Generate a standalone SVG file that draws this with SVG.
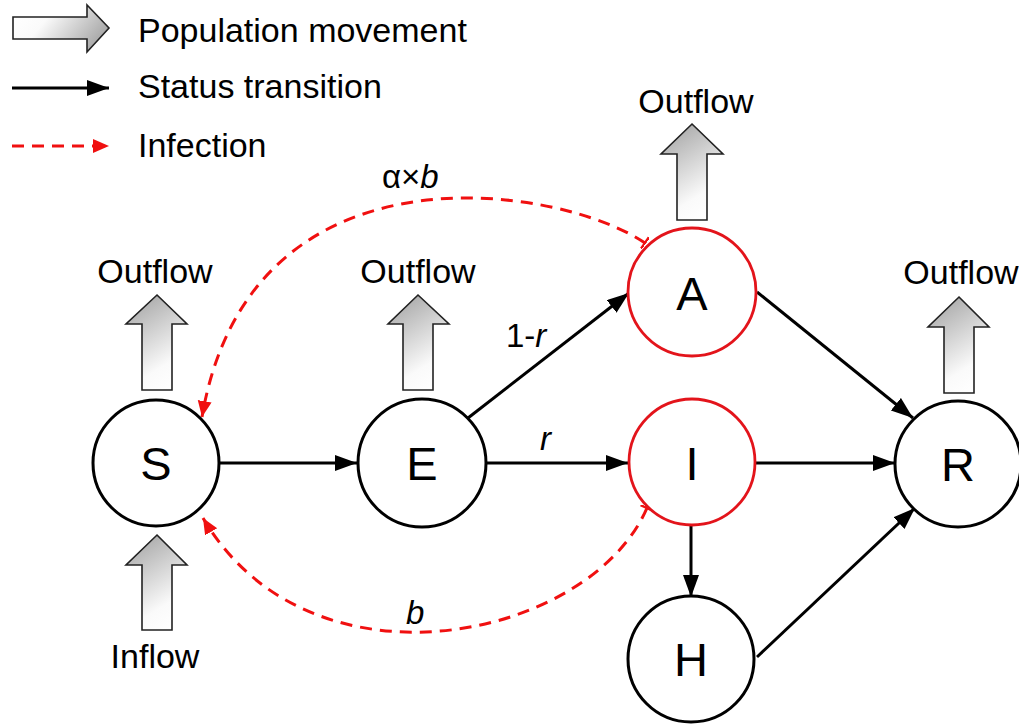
<svg xmlns="http://www.w3.org/2000/svg" width="1019" height="724" viewBox="0 0 1019 724">
<style>
text{font-family:"Liberation Sans",Arial,sans-serif;fill:#000}
.lbl{font-size:34px}
.node{fill:#fff;stroke:#000;stroke-width:3}
.inf{fill:#fff;stroke:#e3141b;stroke-width:2.8}
.nl{font-size:47px;text-anchor:middle}
.blk{fill:url(#gUp);stroke:#222;stroke-width:1.6}
.tr{stroke:#000;stroke-width:3;fill:none}
.rd{stroke:#f01010;stroke-width:3;fill:none;stroke-dasharray:12 8}
.el{font-size:33px}
</style>
<defs>
<linearGradient id="gUp" x1="0.3" y1="0" x2="0.7" y2="1">
<stop offset="0" stop-color="#a9a9a9"/>
<stop offset="0.75" stop-color="#fafafa"/>
<stop offset="1" stop-color="#ffffff"/>
</linearGradient>
<linearGradient id="gRight" x1="0" y1="0.3" x2="1" y2="0.7">
<stop offset="0" stop-color="#ffffff"/>
<stop offset="0.3" stop-color="#fafafa"/>
<stop offset="1" stop-color="#a0a0a0"/>
</linearGradient>
<marker id="ab" markerUnits="userSpaceOnUse" markerWidth="24" markerHeight="18" refX="22" refY="8" orient="auto">
<path d="M0,0 L22,8 L0,16 Z" fill="#000"/>
</marker>
<marker id="ar" markerUnits="userSpaceOnUse" markerWidth="18" markerHeight="16" refX="16" refY="7" orient="auto">
<path d="M0,0 L16,7 L0,14 Z" fill="#f01010"/>
</marker>
<marker id="tee" markerUnits="userSpaceOnUse" markerWidth="4" markerHeight="14" refX="1" refY="7" orient="auto">
<path d="M1,0 L1,14" stroke="#f01010" stroke-width="2.5"/>
</marker>
</defs>

<g id="legend">
<path d="M13,17 L87,17 L87,5 L109,28 L87,52 L87,39 L13,39 Z" fill="url(#gRight)" stroke="#222" stroke-width="1.6"/>
<text class="lbl" x="138" y="42">Population movement</text>
<line x1="12" y1="88" x2="109" y2="88" class="tr" marker-end="url(#ab)"/>
<text class="lbl" x="138" y="98">Status transition</text>
<line x1="12" y1="146" x2="109" y2="146" class="rd" stroke-dasharray="12 9" marker-end="url(#ar)"/>
<text class="lbl" x="138" y="157">Infection</text>
</g>

<g id="flows">
<g id="outS">
<path d="M157,295 L187,324 L172,324 L172,390 L142,390 L142,324 L126,324 Z" class="blk"/>
<text class="lbl" x="155" y="283" text-anchor="middle">Outflow</text>
</g>
<g id="outE">
<path d="M418,295 L449,324 L433,324 L433,390 L403,390 L403,324 L388,324 Z" class="blk"/>
<text class="lbl" x="418" y="283" text-anchor="middle">Outflow</text>
</g>
<g id="outA">
<path d="M692,124 L723,154 L707,154 L707,220 L677,220 L677,154 L661,154 Z" class="blk"/>
<text class="lbl" x="696" y="113" text-anchor="middle">Outflow</text>
</g>
<g id="outR">
<path d="M959,297 L989,327 L974,327 L974,393 L944,393 L944,327 L928,327 Z" class="blk"/>
<text class="lbl" x="961" y="284" text-anchor="middle">Outflow</text>
</g>
<g id="inS">
<path d="M157,535 L187,565 L172,565 L172,630 L142,630 L142,565 L126,565 Z" class="blk"/>
<text class="lbl" x="155" y="668" text-anchor="middle">Inflow</text>
</g>
</g>

<g id="connectors">
<line x1="220" y1="463" x2="357" y2="463" class="tr" marker-end="url(#ab)"/>
<line x1="468" y1="418" x2="629" y2="293" class="tr" marker-end="url(#ab)"/>
<line x1="487" y1="463" x2="628" y2="463" class="tr" marker-end="url(#ab)"/>
<line x1="757" y1="292" x2="913" y2="418" class="tr" marker-end="url(#ab)"/>
<line x1="756" y1="463" x2="895" y2="463" class="tr" marker-end="url(#ab)"/>
<line x1="691" y1="525" x2="691" y2="597" class="tr" marker-end="url(#ab)"/>
<line x1="757" y1="657" x2="915" y2="508" class="tr" marker-end="url(#ab)"/>
<path d="M645,243 C560,185 250,135 202,417" class="rd" marker-start="url(#tee)" marker-end="url(#ar)"/>
<path d="M647,508 C590,640 310,700 203,518" class="rd" marker-start="url(#tee)" marker-end="url(#ar)"/>
<text class="el" x="506" y="347">1-<tspan font-style="italic">r</tspan></text>
<text class="el" x="540" y="450" font-style="italic">r</text>
<text class="el" x="382" y="188">α×<tspan font-style="italic">b</tspan></text>
<text class="el" x="406" y="624" font-style="italic">b</text>
</g>

<g id="S"><circle cx="156" cy="463" r="63" class="node"/><text class="nl" x="156" y="480">S</text></g>
<g id="E"><circle cx="422" cy="463" r="64" class="node"/><text class="nl" x="422" y="480">E</text></g>
<g id="A"><circle cx="692" cy="292" r="64" class="inf"/><text class="nl" x="692" y="310">A</text></g>
<g id="I"><circle cx="692" cy="462" r="63" class="inf"/><text class="nl" x="692" y="480">I</text></g>
<g id="H"><circle cx="691" cy="659" r="63" class="node"/><text class="nl" x="691" y="676">H</text></g>
<g id="R"><circle cx="958" cy="464" r="63" class="node"/><text class="nl" x="958" y="481">R</text></g>
</svg>
